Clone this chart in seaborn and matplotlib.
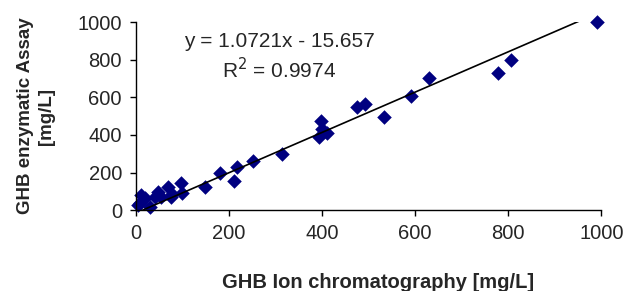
import numpy as np
import pandas as pd
import seaborn as sns
import matplotlib.pyplot as plt

# GHB ion chromatography vs enzymatic assay [mg/L]
ion_chrom = [5, 9, 12, 19, 30, 41, 48, 55, 70, 75, 77, 98, 100, 149, 180,
             211, 217, 251, 314, 393, 397, 400, 411, 476, 492, 534, 592,
             630, 779, 806, 990]
enzymatic = [27, 40, 80, 62, 18, 71, 98, 72, 124, 71, 85, 142, 89, 122, 196,
             156, 230, 260, 301, 390, 475, 434, 410, 550, 565, 496, 608,
             704, 730, 798, 1000]

slope = 1.0721
intercept = -15.657
r_squared = 0.9974

df = pd.DataFrame({"ic": ion_chrom, "enz": enzymatic})

sns.set_style("white")
plt.rcParams['font.family'] = ['Liberation Sans', 'DejaVu Sans']

fig = plt.figure(figsize=(6.29, 2.91), dpi=100)
ax = fig.add_axes([0.216, 0.278, 0.740, 0.646])

sns.scatterplot(data=df, x="ic", y="enz", marker="D", s=55, color="#000080",
                linewidth=0, ax=ax, clip_on=False, zorder=2)

x_line = np.array([min(ion_chrom), max(ion_chrom)])
ax.plot(x_line, slope * x_line + intercept, color="black", lw=1.2, zorder=3)

ax.set_xlim(0, 1000)
ax.set_ylim(0, 1000)
ax.set_xticks(range(0, 1001, 200))
ax.set_yticks(range(0, 1001, 200))
ax.tick_params(axis="both", direction="out", length=4, width=1, color="black",
               labelsize=14.5, pad=6, bottom=True, left=True)

for side in ["top", "right"]:
    ax.spines[side].set_visible(False)
for side in ["left", "bottom"]:
    ax.spines[side].set_color("black")
    ax.spines[side].set_linewidth(1)

ax.set_xlabel("GHB Ion chromatography [mg/L]", fontsize=14.5, fontweight="bold")
ax.xaxis.set_label_coords(0.52, -0.335)
ax.set_ylabel("GHB enzymatic Assay\n[mg/L]", fontsize=13.5, fontweight="bold", labelpad=16,
              linespacing=1.35)

ax.text(308, 895, "y = 1.0721x - 15.657", ha="center", va="center", fontsize=15)
ax.text(308, 745, "R$^2$ = {}".format(r_squared), ha="center", va="center", fontsize=15)

plt.savefig("out.png", dpi=100)
